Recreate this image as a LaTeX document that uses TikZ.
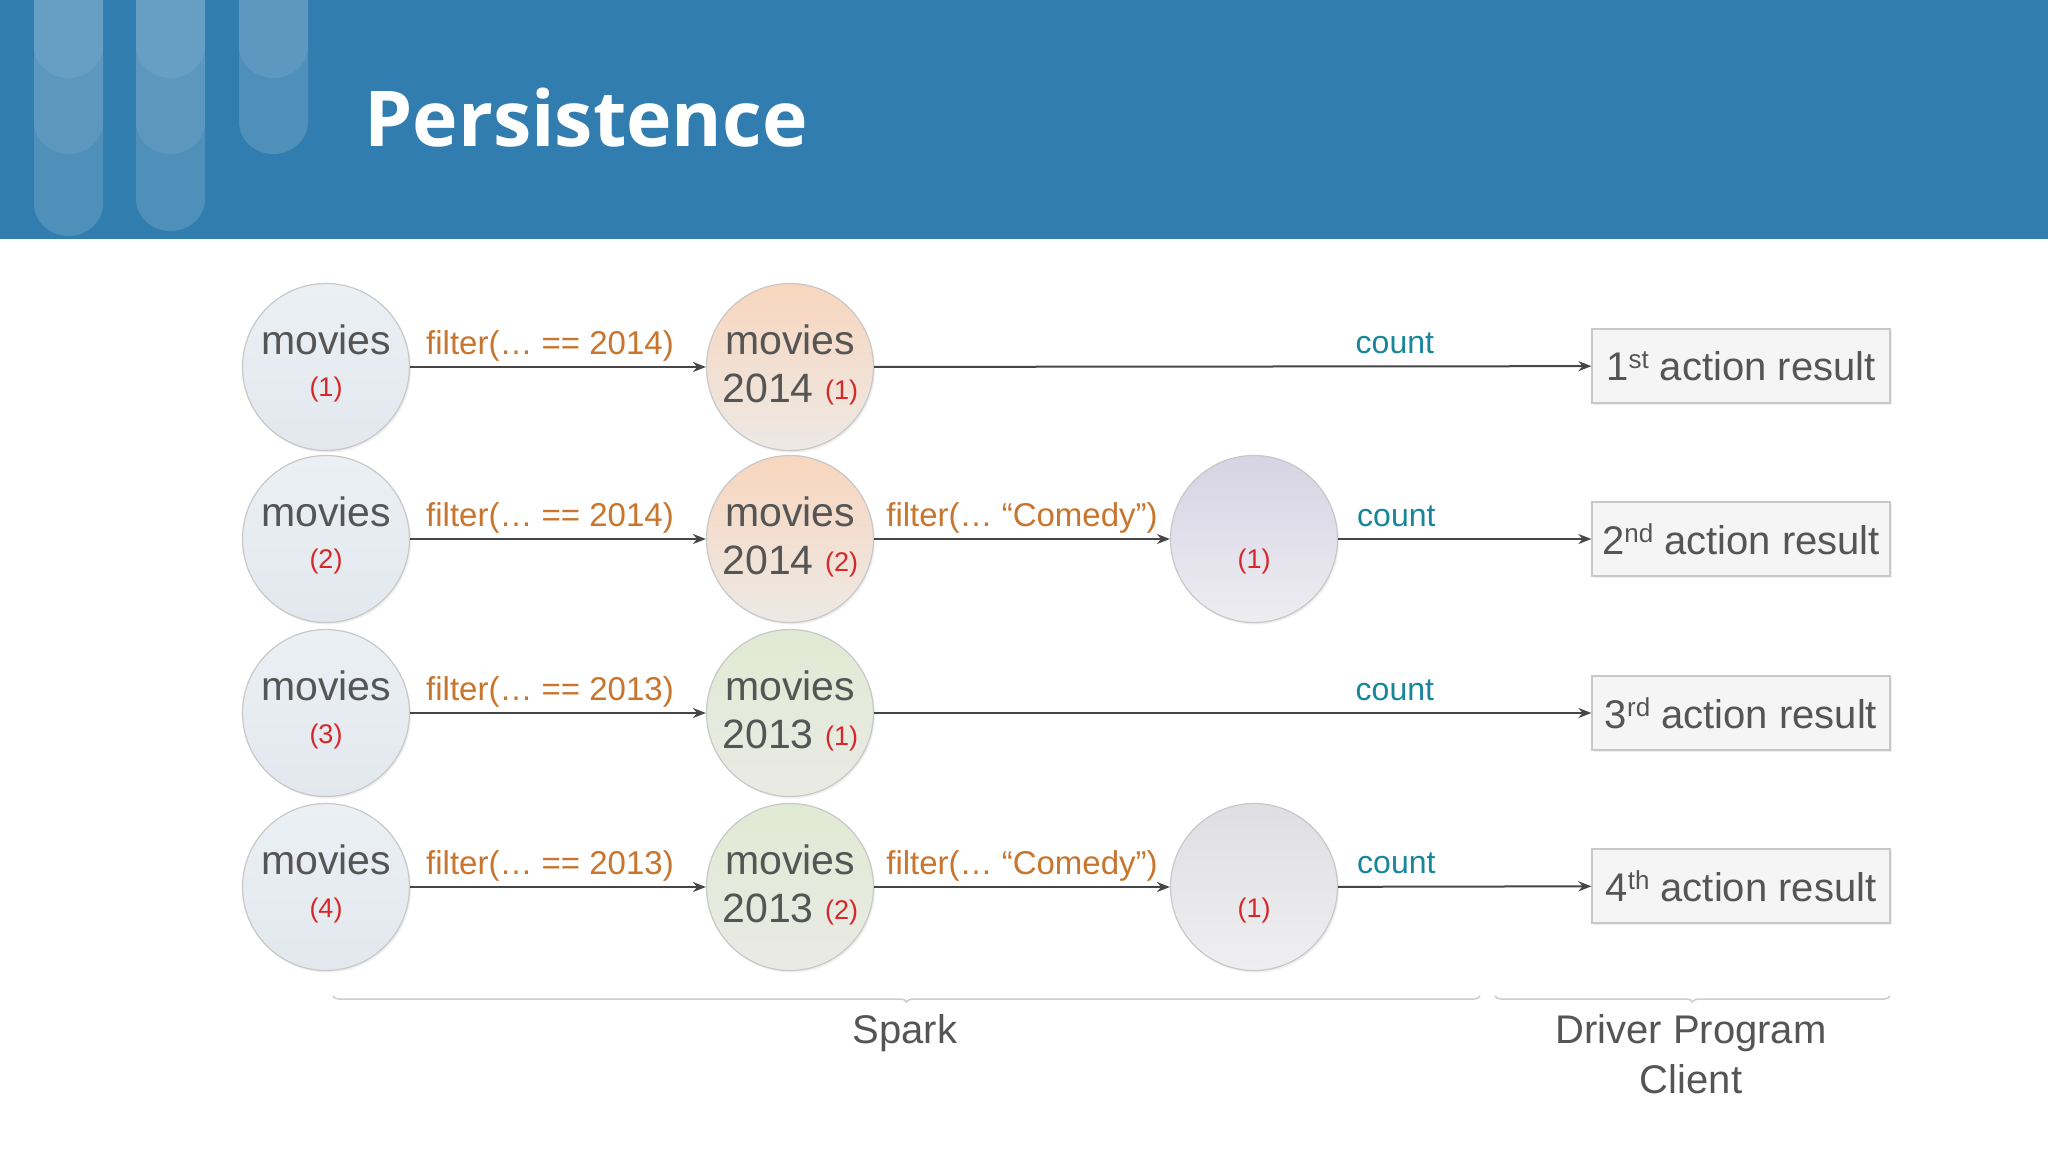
\documentclass[tikz,border=0pt]{standalone}
\usepackage{fontspec}
\setmainfont{Liberation Sans}
\newfontfamily\titlefont{Open Sans}
\usetikzlibrary{arrows.meta,shadows,decorations.pathreplacing,calc}
\definecolor{hdr}{RGB}{49,125,176}
\definecolor{txtgray}{RGB}{85,85,85}
\definecolor{redc}{RGB}{214,40,40}
\definecolor{orangec}{RGB}{200,117,46}
\definecolor{tealc}{RGB}{23,134,154}
\definecolor{linec}{RGB}{70,70,70}
\definecolor{bordc}{RGB}{200,200,200}
\tikzset{
  rdd/.style={circle,minimum size=167pt,inner sep=0pt,draw=bordc,line width=1.2pt,
    drop shadow={opacity=0.12,shadow xshift=1.5pt,shadow yshift=-2pt}},
  bluec/.style={rdd,top color={rgb,255:red,235;green,240;blue,245},bottom color={rgb,255:red,227;green,232;blue,238}},
  peachc/.style={rdd,top color={rgb,255:red,248;green,214;blue,190},bottom color={rgb,255:red,237;green,233;blue,229}},
  greenc/.style={rdd,top color={rgb,255:red,225;green,234;blue,211},bottom color={rgb,255:red,234;green,234;blue,230}},
  lavc/.style={rdd,top color={rgb,255:red,214;green,211;blue,228},bottom color={rgb,255:red,238;green,237;blue,242}},
  grayc/.style={rdd,top color={rgb,255:red,223;green,223;blue,227},bottom color={rgb,255:red,239;green,239;blue,241}},
  bigt/.style={text=txtgray,font=\fontsize{41}{45}\selectfont,inner sep=0pt},
  redt/.style={text=redc,font=\fontsize{27}{30}\selectfont,inner sep=0pt},
  arr/.style={draw=linec,line width=2pt,-{Stealth[length=13pt,width=10pt]}},
  flab/.style={text=orangec,font=\fontsize{33}{36}\selectfont,anchor=base,yshift=13pt,inner sep=0pt},
  clab/.style={text=tealc,font=\fontsize{32}{36}\selectfont,anchor=base,yshift=13pt,inner sep=0pt},
  resbox/.style={draw=bordc,line width=1.2pt,fill={rgb,255:red,245;green,245;blue,245},minimum width=298pt,minimum height=74pt,inner sep=0pt,
    text=txtgray,font=\fontsize{40}{44}\selectfont,
    drop shadow={opacity=0.12,shadow xshift=1.5pt,shadow yshift=-2pt}},
  brace/.style={draw={rgb,255:red,205;green,205;blue,205},line width=1.5pt,decorate,decoration={brace,amplitude=6pt,mirror}},
  foot/.style={text=txtgray,font=\fontsize{40}{50}\selectfont,align=center,inner sep=0pt}
}
\newcommand{\sups}[1]{\raisebox{0.55ex}{\fontsize{26}{28}\selectfont #1}}
\begin{document}
\begin{tikzpicture}[x=1pt,y=-1pt]
\useasboundingbox (0,0) rectangle (2048,1152);
\fill[white] (0,0) rectangle (2048,1152);
% header
\fill[hdr] (0,0) rectangle (2048,239);
\foreach \xa/\bot in {34/236,136/231,239/154}{
  \fill[white,opacity=0.15] (\xa,0) -- (\xa,{\bot-32}) arc[start angle=180,end angle=0,x radius=34.5,y radius=32] -- ({\xa+69},0) -- cycle;
}
\foreach \xa in {34,136,239}{
  \fill[white,opacity=0.08] (\xa,0) -- (\xa,46) arc[start angle=180,end angle=0,x radius=34.5,y radius=32] -- ({\xa+69},0) -- cycle;
}
\foreach \xa in {34,136}{
  \fill[white,opacity=0.07] (\xa,0) -- (\xa,122) arc[start angle=180,end angle=0,x radius=34.5,y radius=32] -- ({\xa+69},0) -- cycle;
}
\node[anchor=west,text=white,font=\titlefont\bfseries\fontsize{77}{80}\selectfont,inner sep=0pt] (title) at (364,118) {Persistence};

% row 1
\node[bluec] (a1) at (326,367) {};
\node[peachc] (b1) at (790,367) {};
\node[resbox] (r1) at (1741,366) {1\sups{st} action result};
% row 2
\node[bluec] (a2) at (326,539) {};
\node[peachc] (b2) at (790,539) {};
\node[lavc] (c2) at (1254,539) {};
\node[resbox] (r2) at (1741,539) {2\sups{nd} action result};
% row 3
\node[bluec] (a3) at (326,713) {};
\node[greenc] (b3) at (790,713) {};
\node[resbox] (r3) at (1741,713) {3\sups{rd} action result};
% row 4
\node[bluec] (a4) at (326,887) {};
\node[greenc] (b4) at (790,887) {};
\node[grayc] (c4) at (1254,887) {};
\node[resbox] (r4) at (1741,886) {4\sups{th} action result};

% texts in circles
\foreach \r/\n in {1/1,2/2,3/3,4/4}{
  \node[bigt] (a\r t) at ($(a\r)+(0,-27)$) {movies};
  \node[redt] (a\r n) at ($(a\r)+(0,23)$) {(\n)};
}
\foreach \r/\y/\n in {1/2014/1,2/2014/2,3/2013/1,4/2013/2}{
  \node[bigt] (b\r t) at ($(b\r)+(0,-27)$) {movies};
  \node[bigt,anchor=base east] (b\r y) at ($(b\r)+(24,35)$) {\y};
  \node[redt,anchor=base west] (b\r n) at ($(b\r)+(35,32)$) {(\n)};
}
\node[redt] (c2n) at ($(c2)+(0,23)$) {(1)};
\node[redt] (c4n) at ($(c4)+(0,23)$) {(1)};

% connectors
\draw[arr] (a1) -- node[flab,xshift=-8pt] (f1) {filter(\dots{} == 2014)} (b1);
\draw[arr] (a2) -- node[flab,xshift=-8pt] (f2) {filter(\dots{} == 2014)} (b2);
\draw[arr] (a3) -- node[flab,xshift=-8pt] (f3) {filter(\dots{} == 2013)} (b3);
\draw[arr] (a4) -- node[flab,xshift=-8pt] (f4) {filter(\dots{} == 2013)} (b4);
\draw[arr] (b2) -- node[flab] (g2) {filter(\dots{} “Comedy”)} (c2);
\draw[arr] (b4) -- node[flab] (g4) {filter(\dots{} “Comedy”)} (c4);
\draw[arr] (b1) -- node[clab,pos=0.726] (k1) {count} (r1);
\draw[arr] (c2) -- node[clab,pos=0.23] (k2) {count} (r2);
\draw[arr] (b3) -- node[clab,pos=0.726] (k3) {count} (r3);
\draw[arr] (c4) -- node[clab,pos=0.23] (k4) {count} (r4);

% bottom braces
\coordinate (s1) at (333,996);
\coordinate (s2) at (1480,996);
\coordinate (d1) at (1495,996);
\coordinate (d2) at (1890,996);
\draw[brace] (s1) -- (s2);
\draw[brace] (d1) -- (d2);
\node[foot] (spark) at (905,1033) {Spark};
\node[foot] (drv) at (1691,1054) {Driver Program\\Client};
\end{tikzpicture}
\end{document}
